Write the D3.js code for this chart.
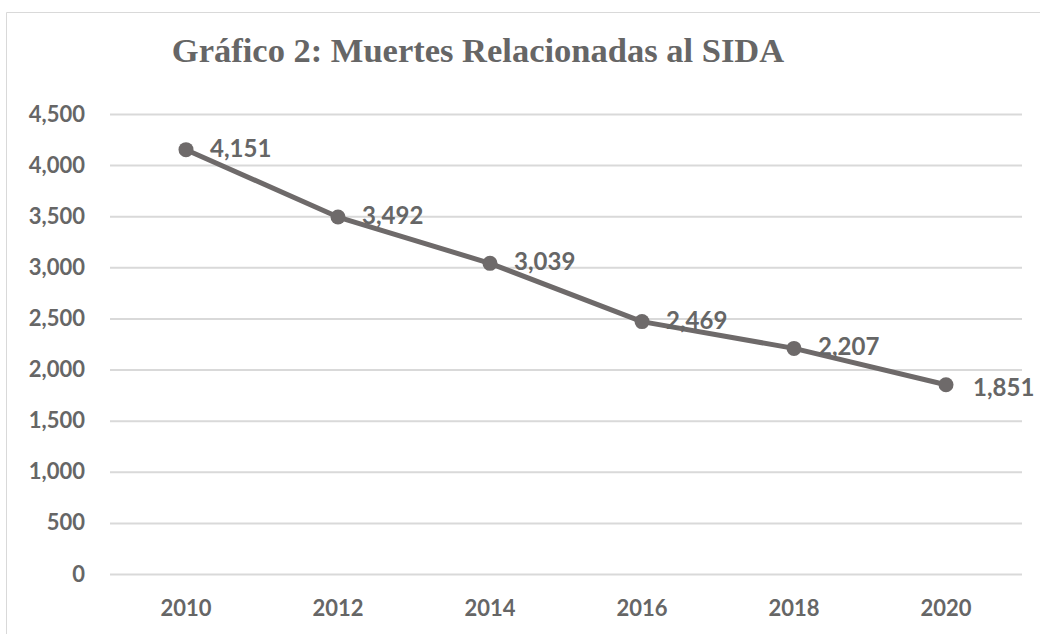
<!DOCTYPE html>
<html>
<head>
<meta charset="utf-8">
<script src="https://cdn.jsdelivr.net/npm/d3@7"></script>
<style>
  body { margin: 0; background: #fff; }
</style>
</head>
<body>
<div id="chart"></div>
<script>
const years = ["2010", "2012", "2014", "2016", "2018", "2020"];
const deaths = [4151, 3492, 3039, 2469, 2207, 1851];
const yTicks = [0, 500, 1000, 1500, 2000, 2500, 3000, 3500, 4000, 4500];
const titleText = "Gráfico 2: Muertes Relacionadas al SIDA";

const width = 1040;
const height = 634;
const margin = {top: 114, bottom: 60, left: 110, right: 18};
const innerWidth = width - margin.left - margin.right;
const innerHeight = height - margin.top - margin.bottom;

const grey = "#6e6a6a";
const textGrey = "#666666";
const sans = "Lato, 'Open Sans', sans-serif";

const svg = d3.select("#chart")
    .append("svg")
    .attr("width", width)
    .attr("height", height);

// outer frame, runs off the right and bottom edges
svg.append("path")
    .attr("d", `M${width},12.5 H6.5 V${height}`)
    .attr("fill", "none")
    .attr("stroke", "#d9d9d9")
    .attr("stroke-width", 1);

svg.append("text")
    .text(titleText)
    .attr("x", 478)
    .attr("y", 62)
    .attr("text-anchor", "middle")
    .attr("fill", textGrey)
    .attr("font-family", "'Liberation Serif', 'Times New Roman', serif")
    .attr("font-weight", "bold")
    .attr("font-size", 34.5);

const innerChart = svg.append("g")
    .attr("transform", `translate(${margin.left}, ${margin.top})`);

const data = years.map((y, i) => ({year: y, value: deaths[i]}));

const xScale = d3.scaleBand()
    .domain(years)
    .range([0, innerWidth]);

const yScale = d3.scaleLinear()
    .domain([0, 4500])
    .range([innerHeight, 0]);

// gridlines + y labels
const yAxis = d3.axisLeft(yScale)
    .tickValues(yTicks)
    .tickSize(-innerWidth)
    .tickFormat(d3.format(","))
    .tickPadding(25);

const yAxisG = innerChart.append("g").call(yAxis);
yAxisG.select(".domain").remove();
yAxisG.selectAll(".tick line")
    .attr("stroke", "#d9d9d9")
    .attr("stroke-width", 2);
yAxisG.selectAll(".tick text")
    .attr("fill", textGrey)
    .attr("font-family", sans)
    .attr("font-weight", "bold")
    .attr("font-size", 22);

const xAxis = d3.axisBottom(xScale).tickSize(0).tickPadding(26);
const xAxisG = innerChart.append("g")
    .attr("transform", `translate(0, ${innerHeight})`)
    .call(xAxis);
xAxisG.select(".domain").remove();
xAxisG.selectAll(".tick text")
    .attr("fill", textGrey)
    .attr("font-family", sans)
    .attr("font-weight", "bold")
    .attr("font-size", 22);

const cx = d => xScale(d.year) + xScale.bandwidth() / 2;

const lineGenerator = d3.line()
    .x(cx)
    .y(d => yScale(d.value));

innerChart.append("path")
    .attr("d", lineGenerator(data))
    .attr("fill", "none")
    .attr("stroke", grey)
    .attr("stroke-width", 5)
    .attr("stroke-linejoin", "round");

innerChart.selectAll(".dot")
    .data(data)
    .join("circle")
    .attr("class", "dot")
    .attr("cx", cx)
    .attr("cy", d => yScale(d.value))
    .attr("r", 7.5)
    .attr("fill", grey);

// data labels, right of each point (last one a bit lower)
innerChart.selectAll(".label")
    .data(data)
    .join("text")
    .attr("class", "label")
    .text(d => d3.format(",")(d.value))
    .attr("x", d => cx(d) + (d.year === "2020" ? 27 : 24))
    .attr("y", d => yScale(d.value) + (d.year === "2020" ? 11 : 7))
    .attr("fill", textGrey)
    .attr("font-family", sans)
    .attr("font-weight", "bold")
    .attr("font-size", 24);
</script>
</body>
</html>
